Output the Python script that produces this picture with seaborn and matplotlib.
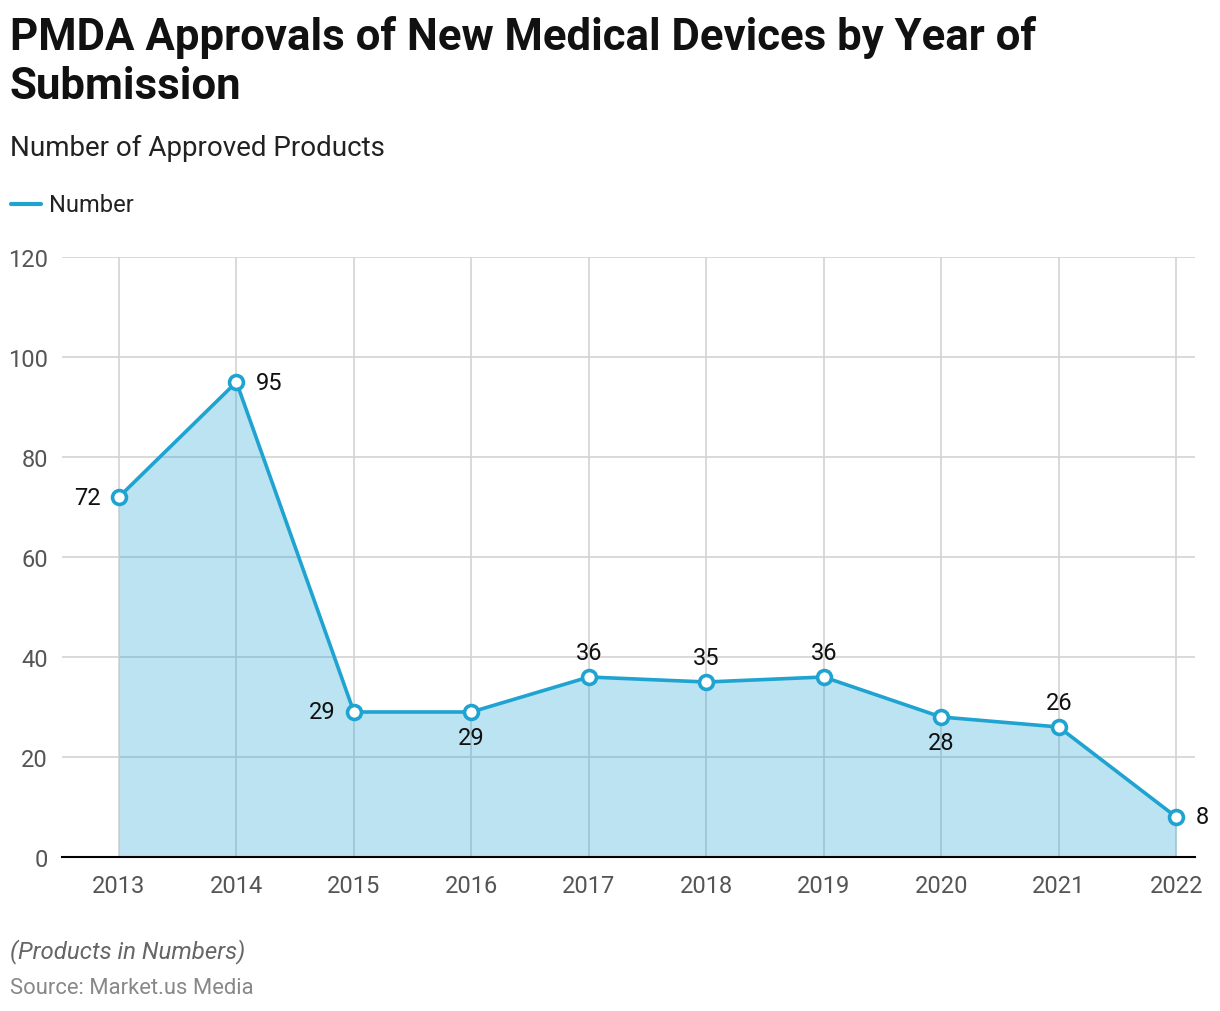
import numpy as np
import pandas as pd
import matplotlib
matplotlib.use('Agg')
import matplotlib.pyplot as plt
import seaborn as sns

years = [2013, 2014, 2015, 2016, 2017, 2018, 2019, 2020, 2021, 2022]
approved = [72, 95, 29, 29, 36, 35, 36, 28, 26, 8]
# where each value label sits relative to its point
label_side = ['left', 'right', 'left', 'below', 'above', 'above', 'above', 'below', 'above', 'right']

df = pd.DataFrame({'YEAR': years, 'Number': approved})

sns.set_style('white')
plt.rcParams['font.family'] = ['Roboto', 'DejaVu Sans']

line_col = '#1fa3d1'

fig = plt.figure(figsize=(12.2, 10.12), dpi=100)
ax = fig.add_axes([0.0508, 0.1522, 0.9287, 0.5928])

ax.fill_between(df['YEAR'], df['Number'], 0, color=line_col, alpha=0.3, zorder=1, linewidth=0)
sns.lineplot(data=df, x='YEAR', y='Number', ax=ax, color=line_col, linewidth=2.6,
             marker='o', markersize=10, markerfacecolor='white', markeredgecolor=line_col,
             markeredgewidth=2.6, zorder=4, legend=False)

ax.set_xlim(2013 - 0.485, 2022 + 0.16)
ax.set_ylim(0, 120)
ax.set_xticks(years)
ax.set_xticklabels([str(y) for y in years])
ax.set_yticks(range(0, 121, 20))
ax.grid(True, color='#d3d3d3', linewidth=1.2, zorder=0)
ax.set_axisbelow(True)
for s in ['top', 'right', 'left']:
    ax.spines[s].set_visible(False)
ax.spines['bottom'].set_color('black')
ax.spines['bottom'].set_linewidth(1.5)
ax.tick_params(axis='both', length=0, labelsize=17, labelcolor='#555555', pad=12)
ax.tick_params(axis='y', pad=10)
ax.set_xlabel('')
ax.set_ylabel('')

offsets = {'left': (-13, 0, 'right', 'center'), 'right': (14, 0, 'left', 'center'),
           'above': (0, 9, 'center', 'bottom'), 'below': (0, -10, 'center', 'top')}
for x, y, side in zip(years, approved, label_side):
    dx, dy, ha, va = offsets[side]
    ax.annotate(str(y), (x, y), xytext=(dx, dy), textcoords='offset points',
                ha=ha, va=va, fontsize=17, color='#111111', zorder=5)

fig.text(0.008, 0.939, 'PMDA Approvals of New Medical Devices by Year of\nSubmission',
         fontsize=31.5, fontweight='bold', color='#111111', va='center', ha='left', linespacing=1.22)
fig.text(0.008, 0.853, 'Number of Approved Products', fontsize=20, color='#222222', va='center')
fig.lines.append(plt.Line2D([0.009, 0.034], [0.797, 0.797], transform=fig.transFigure,
                            color=line_col, linewidth=3))
fig.text(0.040, 0.797, 'Number', fontsize=17, color='#222222', va='center')
fig.text(0.008, 0.060, '(Products in Numbers)', fontsize=17.3, style='italic', color='#666666', va='center')
fig.text(0.008, 0.023, 'Source: Market.us Media', fontsize=15.8, color='#888888', va='center')

fig.savefig('out.png', dpi=100)
